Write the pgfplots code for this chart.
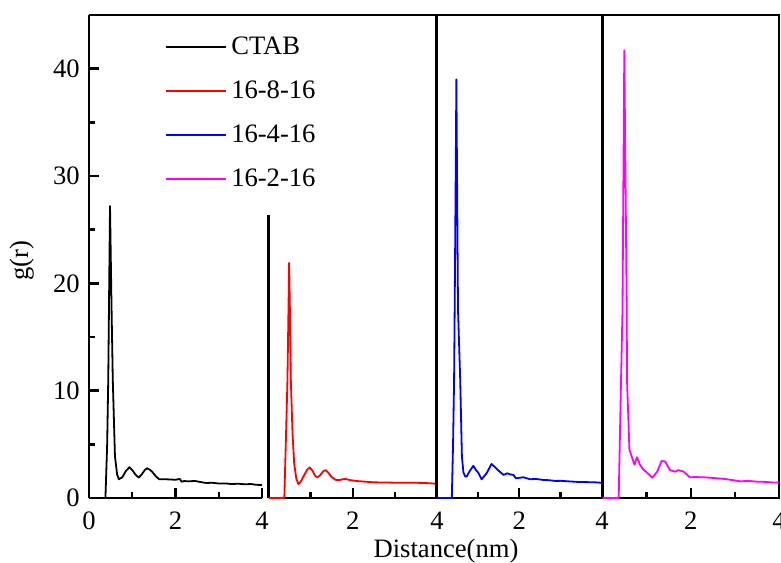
\documentclass[border=0pt]{standalone}
\usepackage{fontspec}
\setmainfont{Liberation Serif}
\usepackage{pgfplots}
\pgfplotsset{compat=1.18}
\definecolor{cred}{RGB}{255,0,0}
\definecolor{cblue}{RGB}{0,0,255}
\definecolor{cmag}{RGB}{255,0,255}
\pgfplotsset{
  panel/.style={
    scale only axis,
    anchor=south west,
    height=241.5pt,
    ymin=0, ymax=45,
    xmin=0, xmax=4,
    xtick={0,2,4},
    minor xtick={1,3},
    ytick={0,10,20,30,40},
    minor ytick={5,15,25,35},
    xtick pos=left,
    ytick pos=left,
    axis line style={line width=1.2pt},
    major tick style={line width=1.2pt, black},
    minor tick style={line width=1.2pt, black},
    major tick length=5pt,
    minor tick length=3pt,
    /pgf/number format/assume math mode=true,
    tick label style={font=\fontsize{13.3}{16}\selectfont},
    xticklabel style={yshift=-2.5pt},
    clip=false,
    every axis plot/.append style={line width=0.9pt, line join=round},
  }
}
\begin{document}
\fontsize{13.3}{16}\selectfont
\begin{tikzpicture}[font=\fontsize{13.3}{16}\selectfont]
% Panel 1: CTAB
\begin{axis}[panel,
  at={(44.5pt,32pt)}, width=86.5pt,
  axis y line*=left, tick align=inside,
  legend style={at={(0.405,0.978)}, anchor=north west, draw=none, fill=none,
    row sep=5pt, cells={anchor=west},
    nodes={text height=10pt, text depth=3pt, inner sep=2pt}},
  legend image code/.code={\draw[#1, line width=0.9pt] (0pt,0pt) -- (30pt,0pt);},
]
\addplot[black] coordinates {(0,0) (0.38,0) (0.42,5) (0.445,11) (0.465,19) (0.486,27.2) (0.52,18) (0.55,11) (0.60,3.9) (0.65,2.2) (0.69,1.75) (0.77,1.93) (0.85,2.5) (0.935,2.87) (1.0,2.6) (1.08,2.15) (1.15,1.9) (1.22,2.2) (1.29,2.6) (1.34,2.77) (1.40,2.65) (1.46,2.45) (1.54,2.05) (1.62,1.75) (1.75,1.75) (1.90,1.72) (2.0,1.7) (2.07,1.75) (2.10,1.78) (2.14,1.52) (2.20,1.58) (2.30,1.55) (2.45,1.59) (2.60,1.47) (2.72,1.40) (2.85,1.42) (3.0,1.35) (3.15,1.36) (3.3,1.3) (3.45,1.33) (3.6,1.28) (3.75,1.3) (3.85,1.24) (4.0,1.2)};
\addlegendentry{CTAB}
\addlegendimage{cred}
\addlegendentry{16-8-16}
\addlegendimage{cblue}
\addlegendentry{16-4-16}
\addlegendimage{cmag}
\addlegendentry{16-2-16}
\draw[line width=1.2pt] (rel axis cs:1,1) -- ++(3.5pt,0);
\end{axis}
% Panel 2: 16-8-16
\begin{axis}[panel,
  at={(134.25pt,32pt)}, width=84.25pt,
  axis y line=none, tick align=inside,
  xticklabels={,2,4},
]
\addplot[black, line width=1.2pt, forget plot] coordinates {(0,0) (0,26.4)};
\addplot[cred] coordinates {(0,0) (0.375,0) (0.41,5) (0.45,11) (0.49,21.9) (0.51,17) (0.53,11) (0.57,6) (0.61,3.2) (0.66,1.8) (0.71,1.3) (0.77,1.55) (0.85,2.15) (0.92,2.65) (0.98,2.85) (1.05,2.5) (1.11,2.05) (1.16,1.92) (1.22,2.1) (1.30,2.5) (1.36,2.6) (1.42,2.35) (1.50,1.95) (1.60,1.68) (1.70,1.68) (1.76,1.75) (1.83,1.77) (1.92,1.68) (2.07,1.59) (2.30,1.52) (2.50,1.46) (2.96,1.43) (3.50,1.42) (3.80,1.38) (4.0,1.32)};
\end{axis}
% Panel 3: 16-4-16
\begin{axis}[panel,
  at={(218.25pt,32pt)}, width=82.75pt,
  axis y line*=left, tick align=inside,
  ytick=\empty, minor ytick=\empty,
  xticklabels={,2,4},
]
\addplot[cblue] coordinates {(0,0) (0.37,0) (0.40,5) (0.425,11) (0.44,18) (0.46,28) (0.48,39.0) (0.50,28) (0.52,17.5) (0.573,11) (0.614,3.85) (0.65,2.4) (0.696,2.0) (0.73,2.0) (0.80,2.5) (0.89,3.0) (0.955,2.6) (1.01,2.35) (1.09,1.75) (1.21,2.3) (1.33,3.17) (1.42,2.85) (1.50,2.55) (1.62,2.15) (1.71,2.3) (1.78,2.2) (1.86,2.15) (1.92,1.83) (2.0,1.88) (2.10,1.93) (2.26,1.75) (2.42,1.77) (2.58,1.68) (2.72,1.66) (2.87,1.59) (3.0,1.6) (3.2,1.55) (3.4,1.5) (3.6,1.48) (3.8,1.47) (3.95,1.43) (4.0,1.42)};
\end{axis}
% Panel 4: 16-2-16
\begin{axis}[panel,
  at={(301.25pt,32pt)}, width=88.25pt,
  tick align=inside,
  ytick=\empty, minor ytick=\empty,
  xticklabels={,2,4},
]
\addplot[cmag] coordinates {(0,0) (0.367,0) (0.42,11) (0.453,17.5) (0.494,41.7) (0.549,17.5) (0.555,11) (0.61,4.5) (0.725,3.1) (0.78,3.8) (0.85,3.1) (0.915,2.7) (1.0,2.4) (1.13,1.9) (1.24,2.45) (1.34,3.45) (1.42,3.4) (1.53,2.6) (1.65,2.45) (1.72,2.6) (1.84,2.45) (1.98,1.93) (2.1,1.95) (2.29,1.93) (2.5,1.87) (2.71,1.8) (2.9,1.7) (3.13,1.55) (3.3,1.6) (3.5,1.52) (3.7,1.5) (3.85,1.45) (4.0,1.45)};
\end{axis}
\node[rotate=90] at (11.25pt,150.5pt) {g(r)};
\node[anchor=base] at (223pt,2.5pt) {Distance(nm)};
\pgfresetboundingbox
\useasboundingbox (0,0) rectangle (390.5pt,281pt);
\end{tikzpicture}
\end{document}
